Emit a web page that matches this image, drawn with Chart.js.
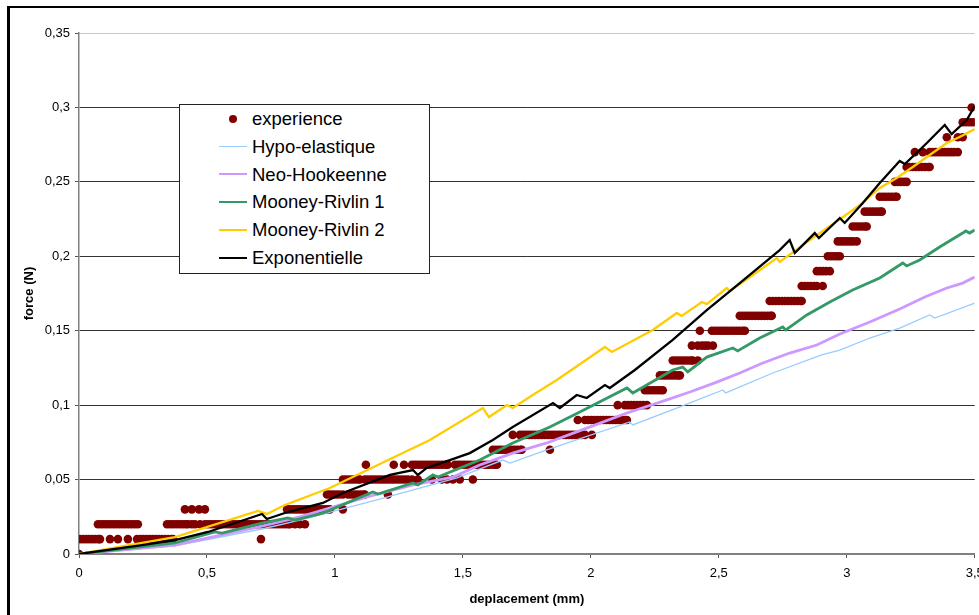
<!DOCTYPE html>
<html>
<head>
<meta charset="utf-8">
<script src="https://cdn.jsdelivr.net/npm/chart.js@4/dist/chart.umd.min.js"></script>
<style>
  body { margin: 0; overflow: hidden; background: #fff; font-family: "Liberation Sans", Arial, sans-serif; }
  #wrap { position: relative; width: 979px; height: 615px; }
  #frame { position: absolute; left: 7px; top: 6px; width: 1100px; height: 800px;
           border-left: 3px solid #000; border-top: 2px solid #000; pointer-events: none; }
  #legend { position: absolute; left: 179px; top: 104px; width: 249px; height: 168px;
            border: 1px solid #222; background: #fff; }
  .row { position: absolute; left: 0; width: 249px; height: 28px; }
  .sample { position: absolute; left: 39px; width: 28px; top: 14px; }
  .dot { position: absolute; left: 49px; top: 10px; width: 8px; height: 8px; border-radius: 50%; }
  .label { position: absolute; left: 72px; top: 0; line-height: 28px; font-size: 18.5px; color: #000; white-space: nowrap; }
</style>
</head>
<body>
<div id="wrap">
  <canvas id="chart" width="979" height="615"></canvas>
  <div id="frame"></div>
  <div id="legend"></div>
</div>
<script>
// axis tick labels
const xTickLabels = ["0", "0,5", "1", "1,5", "2", "2,5", "3", "3,5"];
const yTickLabels = ["0", "0,05", "0,1", "0,15", "0,2", "0,25", "0,3", "0,35"];

const seriesNames = ["experience", "Hypo-elastique", "Neo-Hookeenne", "Mooney-Rivlin 1", "Mooney-Rivlin 2", "Exponentielle"];

// experience : force levels (N) and the displacements (mm) measured at each level
const expForce = [0, 0.01, 0.02, 0.03, 0.04, 0.05, 0.06, 0.07, 0.08, 0.09, 0.10,
  0.11, 0.12, 0.13, 0.14, 0.15, 0.16, 0.17, 0.18, 0.19, 0.20,
  0.21, 0.22, 0.23, 0.24, 0.25, 0.26, 0.27, 0.28, 0.29, 0.30];
const expDisp = [
  [0],
  [0.004, 0.016, 0.028, 0.040, 0.052, 0.064, 0.076, 0.082, 0.121, 0.152, 0.191, 0.227, 0.240, 0.252, 0.264, 0.276, 0.288, 0.300, 0.312, 0.324, 0.336, 0.348, 0.360, 0.367, 0.711],
  [0.074, 0.086, 0.098, 0.110, 0.122, 0.134, 0.146, 0.158, 0.170, 0.182, 0.194, 0.206, 0.218, 0.230,
   0.344, 0.356, 0.368, 0.380, 0.392, 0.404, 0.416, 0.426, 0.441, 0.453, 0.473,
   0.492, 0.504, 0.516, 0.528, 0.540, 0.552, 0.564, 0.576, 0.588, 0.600, 0.612, 0.624, 0.636, 0.648, 0.660,
   0.672, 0.684, 0.696, 0.708, 0.720, 0.732, 0.744, 0.756, 0.768, 0.780, 0.792, 0.804, 0.816, 0.824, 0.844, 0.863, 0.883],
  [0.414, 0.441, 0.469, 0.492, 0.813, 0.825, 0.837, 0.849, 0.861, 0.873, 0.885, 0.897, 0.909, 0.921, 0.933, 0.945, 0.957, 0.969, 0.980, 1.031],
  [0.969, 0.981, 0.993, 1.005, 1.017, 1.031, 1.051, 1.063, 1.075, 1.087, 1.099, 1.111, 1.117, 1.207],
  [1.031, 1.043, 1.055, 1.067, 1.079, 1.091, 1.098, 1.117, 1.129, 1.141, 1.153, 1.165, 1.177, 1.189, 1.201, 1.213,
   1.225, 1.237, 1.249, 1.261, 1.273, 1.285, 1.301, 1.324, 1.379, 1.418, 1.438, 1.461, 1.488, 1.539],
  [1.121, 1.230, 1.270, 1.301, 1.313, 1.325, 1.337, 1.349, 1.361, 1.373, 1.385, 1.397, 1.409, 1.421, 1.433, 1.441,
   1.469, 1.481, 1.493, 1.505, 1.517, 1.529, 1.541, 1.553, 1.565, 1.577, 1.589, 1.601, 1.613, 1.625, 1.633],
  [1.617, 1.629, 1.641, 1.653, 1.665, 1.677, 1.689, 1.701, 1.713, 1.725, 1.730, 1.840],
  [1.695, 1.723, 1.735, 1.747, 1.759, 1.771, 1.783, 1.795, 1.807, 1.819, 1.831, 1.843, 1.855, 1.867, 1.879, 1.891,
   1.903, 1.915, 1.927, 1.939, 1.951, 1.963, 1.977, 2.004],
  [1.949, 1.977, 1.989, 2.001, 2.013, 2.025, 2.037, 2.049, 2.061, 2.073, 2.085, 2.097, 2.109, 2.121, 2.133, 2.141],
  [2.105, 2.133, 2.145, 2.157, 2.169, 2.181, 2.193, 2.205, 2.219],
  [2.211, 2.223, 2.235, 2.247, 2.259, 2.271, 2.281],
  [2.270, 2.282, 2.294, 2.306, 2.318, 2.330, 2.342, 2.348],
  [2.320, 2.332, 2.344, 2.356, 2.368, 2.380, 2.392, 2.398, 2.418],
  [2.395, 2.418, 2.434, 2.446, 2.458, 2.477],
  [2.426, 2.473, 2.485, 2.497, 2.509, 2.521, 2.533, 2.545, 2.557, 2.569, 2.581, 2.593, 2.602],
  [2.582, 2.594, 2.606, 2.618, 2.630, 2.642, 2.654, 2.666, 2.678, 2.690, 2.702, 2.707],
  [2.699, 2.711, 2.723, 2.735, 2.747, 2.759, 2.771, 2.783, 2.795, 2.807, 2.819, 2.824],
  [2.824, 2.836, 2.848, 2.860, 2.872, 2.883, 2.906],
  [2.883, 2.895, 2.907, 2.919, 2.934],
  [2.926, 2.938, 2.950, 2.962, 2.973],
  [2.965, 2.977, 2.989, 3.001, 3.013, 3.025, 3.039],
  [3.023, 3.035, 3.047, 3.059, 3.071, 3.078],
  [3.070, 3.082, 3.094, 3.106, 3.118, 3.130, 3.137],
  [3.129, 3.141, 3.153, 3.165, 3.177, 3.189, 3.195],
  [3.188, 3.200, 3.212, 3.224, 3.234],
  [3.234, 3.246, 3.258, 3.270, 3.282, 3.294, 3.306, 3.318, 3.324],
  [3.266, 3.297, 3.324, 3.336, 3.348, 3.360, 3.372, 3.384, 3.396, 3.408, 3.420, 3.434],
  [3.391, 3.434, 3.453],
  [3.453, 3.465, 3.477, 3.489, 3.500],
  [3.488]
];

// model curves (deplacement mm, force N)
const hypoX = [0, 0.375, 0.715, 0.863, 1.164, 1.477, 1.656, 1.684, 1.828, 2.152, 2.164, 2.348, 2.516, 2.527, 2.711, 2.902, 2.973, 3.090, 3.207, 3.324, 3.344, 3.5];
const hypoY = [0, 0.0054, 0.0168, 0.0228, 0.0363, 0.0511, 0.0631, 0.0611, 0.0699, 0.0887, 0.0867, 0.0988, 0.1102, 0.1082, 0.1216, 0.1337, 0.1370, 0.1451, 0.1518, 0.1606, 0.1585, 0.1686];

const neoX = [0, 0.375, 0.715, 0.863, 1.125, 1.305, 1.461, 1.566, 1.695, 1.828, 1.984, 2.141, 2.297, 2.387, 2.492, 2.582, 2.672, 2.777, 2.883, 2.973, 3.090, 3.207, 3.305, 3.391, 3.453, 3.5];
const neoY = [0, 0.0060, 0.0188, 0.0249, 0.0383, 0.0464, 0.0517, 0.0598, 0.0678, 0.0746, 0.0846, 0.0947, 0.1035, 0.1088, 0.1155, 0.1216, 0.1283, 0.1350, 0.1404, 0.1478, 0.1559, 0.1646, 0.1726, 0.1787, 0.1820, 0.1861];

const mr1X = [0, 0.375, 0.531, 0.559, 0.715, 0.816, 0.844, 0.953, 1.148, 1.168, 1.305, 1.324, 1.383, 1.402, 1.566, 1.695, 1.840, 1.957, 2.141, 2.164, 2.320, 2.359, 2.379, 2.453, 2.555, 2.574, 2.660, 2.750, 2.762, 2.844, 2.934, 3.023, 3.129, 3.219, 3.234, 3.285, 3.363, 3.453, 3.465, 3.480, 3.5];
const mr1Y = [0, 0.0074, 0.0148, 0.0141, 0.0208, 0.0242, 0.0228, 0.0275, 0.0417, 0.0403, 0.0477, 0.0464, 0.0531, 0.0517, 0.0631, 0.0746, 0.0853, 0.0954, 0.1115, 0.1082, 0.1236, 0.1256, 0.1223, 0.1323, 0.1384, 0.1364, 0.1451, 0.1525, 0.1505, 0.1606, 0.1693, 0.1773, 0.1854, 0.1955, 0.1935, 0.1975, 0.2062, 0.2156, 0.2170, 0.2156, 0.2177];

const mr2X = [0, 0.375, 0.699, 0.734, 0.805, 0.980, 1.371, 1.578, 1.602, 1.672, 1.695, 1.773, 1.867, 2.055, 2.082, 2.242, 2.336, 2.355, 2.434, 2.453, 2.531, 2.543, 2.633, 2.727, 2.738, 2.867, 2.980, 3.051, 3.129, 3.195, 3.258, 3.324, 3.391, 3.441, 3.5];
const mr2Y = [0, 0.0114, 0.0289, 0.0269, 0.0329, 0.0443, 0.0766, 0.0981, 0.0920, 0.1001, 0.0981, 0.1068, 0.1169, 0.1391, 0.1357, 0.1505, 0.1619, 0.1599, 0.1693, 0.1679, 0.1787, 0.1767, 0.1874, 0.1988, 0.1962, 0.2123, 0.2257, 0.2345, 0.2459, 0.2526, 0.2600, 0.2680, 0.2761, 0.2801, 0.2855];

const expoX = [0, 0.246, 0.375, 0.504, 0.715, 0.734, 0.816, 0.953, 1.031, 1.215, 1.305, 1.324, 1.359, 1.449, 1.527, 1.617, 1.695, 1.852, 1.879, 1.945, 1.984, 2.055, 2.074, 2.172, 2.320, 2.453, 2.582, 2.738, 2.777, 2.797, 2.875, 2.891, 2.973, 2.992, 3.063, 3.129, 3.207, 3.227, 3.313, 3.383, 3.410, 3.469, 3.5];
const expoY = [0, 0.0060, 0.0094, 0.0148, 0.0269, 0.0235, 0.0282, 0.0343, 0.0410, 0.0531, 0.0564, 0.0531, 0.0578, 0.0631, 0.0678, 0.0766, 0.0853, 0.1014, 0.0981, 0.1068, 0.1048, 0.1135, 0.1115, 0.1236, 0.1438, 0.1639, 0.1820, 0.2042, 0.2109, 0.2022, 0.2156, 0.2123, 0.2257, 0.2224, 0.2358, 0.2492, 0.2640, 0.2620, 0.2761, 0.2882, 0.2821, 0.2915, 0.3010];

function pts(xs, ys) {
  return xs.map((x, i) => ({ x: x, y: ys[i] }));
}

// flatten experience levels into points
const expPoints = [];
for (let i = 0; i < expForce.length; i++) {
  for (let j = 0; j < expDisp[i].length; j++) {
    expPoints.push({ x: expDisp[i][j], y: expForce[i] });
  }
}

const colors = ["#800000", "#99ccff", "#cc99ff", "#339966", "#ffcc00", "#000000"];
const widths = [0, 1.3, 2.8, 2.8, 2.3, 2.3];
const curves = [null, pts(hypoX, hypoY), pts(neoX, neoY), pts(mr1X, mr1Y), pts(mr2X, mr2Y), pts(expoX, expoY)];

const datasets = [{
  label: seriesNames[0],
  data: expPoints,
  showLine: false,
  pointRadius: 4.3,
  pointBackgroundColor: colors[0],
  pointBorderColor: colors[0],
  pointBorderWidth: 0,
  order: 6
}];
for (let i = 1; i < seriesNames.length; i++) {
  datasets.push({
    label: seriesNames[i],
    data: curves[i],
    showLine: true,
    borderColor: colors[i],
    borderWidth: widths[i],
    pointRadius: 0,
    tension: 0,
    order: 6 - i
  });
}

const tickFont = { family: "Liberation Sans", size: 13 };
const titleFont = { family: "Liberation Sans", size: 13, weight: "bold" };

new Chart(document.getElementById("chart").getContext("2d"), {
  type: "scatter",
  data: { datasets: datasets },
  options: {
    responsive: false,
    animation: false,
    layout: { padding: { left: 0, right: 4, top: 33, bottom: 0 } },
    plugins: { legend: { display: false }, tooltip: { enabled: false } },
    scales: {
      x: {
        type: "linear", min: 0, max: 3.5,
        border: { color: "#808080", width: 2 },
        grid: { drawOnChartArea: false, drawTicks: true, tickLength: 4, color: "#555" },
        ticks: {
          stepSize: 0.5, color: "#000", font: tickFont, padding: 8, maxRotation: 0,
          callback: (v, i) => xTickLabels[i]
        },
        title: { display: true, text: "deplacement (mm)", color: "#000", font: titleFont, padding: { top: 0, bottom: 8 } },
        afterFit: s => { s.height = 61; s.paddingLeft = 0; s.paddingRight = 0; }
      },
      y: {
        min: 0, max: 0.35,
        border: { color: "#808080", width: 1.5 },
        grid: {
          tickLength: 4,
          tickColor: "#555",
          color: c => {
            const v = c.tick ? c.tick.value : 0;
            if (v < 0.001) return "rgba(0,0,0,0)";
            if (v > 0.349) return "#c8c8c8";
            return "#333";
          }
        },
        ticks: {
          stepSize: 0.05, color: "#000", font: tickFont, padding: 5,
          callback: (v, i) => yTickLabels[i]
        },
        title: { display: true, text: "force (N)", color: "#000", font: titleFont, padding: { top: 22, bottom: 0 } },
        afterFit: s => { s.width = 79; s.paddingTop = 0; s.paddingBottom = 0; }
      }
    }
  }
});

// legend box
const legend = document.getElementById("legend");
for (let i = 0; i < seriesNames.length; i++) {
  const row = document.createElement("div");
  row.className = "row";
  row.style.top = (i * 27.8) + "px";
  if (i === 0) {
    const d = document.createElement("div");
    d.className = "dot";
    d.style.background = colors[0];
    row.appendChild(d);
  } else {
    const s = document.createElement("div");
    s.className = "sample";
    s.style.borderTop = widths[i] + "px solid " + colors[i];
    s.style.marginTop = (-widths[i] / 2) + "px";
    row.appendChild(s);
  }
  const t = document.createElement("div");
  t.className = "label";
  t.textContent = seriesNames[i];
  row.appendChild(t);
  legend.appendChild(row);
}
</script>
</body>
</html>
